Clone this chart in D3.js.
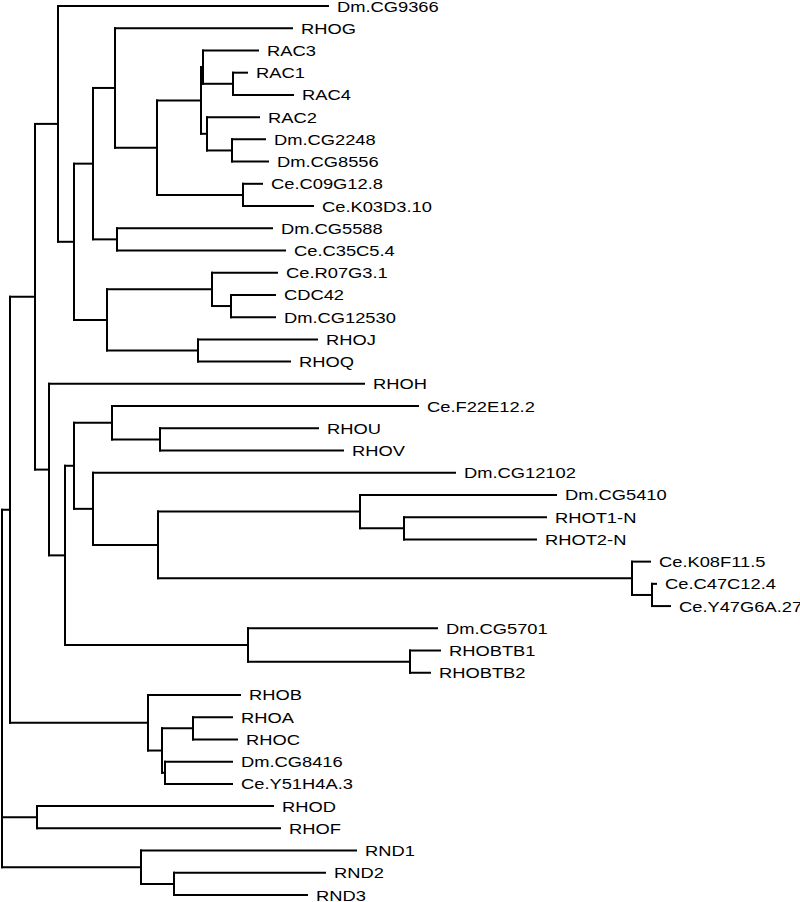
<!DOCTYPE html>
<html>
<head>
<meta charset="utf-8">
<script src="https://cdn.jsdelivr.net/npm/d3@7"></script>
<style>
  html, body { margin: 0; padding: 0; background: #fff; }
  svg { display: block; }
</style>
</head>
<body>
<div id="chart"></div>
<script>
// Tree nodes (in drawing order), their parents and branch lengths
const nodeNames = [
  "root","n10","n35","n58","Dm.CG9366","n74","n93","n115","RHOG","n157",
  "n201","n203","RAC3","n233","RAC1","RAC4","n207","RAC2","n232","Dm.CG2248",
  "Dm.CG8556","n243","Ce.C09G12.8","Ce.K03D3.10","n117","Dm.CG5588","Ce.C35C5.4","n107","n212","Ce.R07G3.1",
  "n231","CDC42","Dm.CG12530","n198","RHOJ","RHOQ","n49","RHOH","n65","n74b",
  "n112","Ce.F22E12.2","n160","RHOU","RHOV","n93b","Dm.CG12102","n158","n360","Dm.CG5410",
  "n404","RHOT1-N","RHOT2-N","n632","Ce.K08F11.5","n652","Ce.C47C12.4","Ce.Y47G6A.27","n248","Dm.CG5701",
  "n410","RHOBTB1","RHOBTB2","n148","RHOB","n162","n193","RHOA","RHOC","n165",
  "Dm.CG8416","Ce.Y51H4A.3","n37","RHOD","RHOF","n141","RND1","n174","RND2","RND3"
];
const parentNames = [
  "","root","n10","n35","n58","n58","n74","n93","n115","n115",
  "n157","n201","n203","n203","n233","n233","n201","n207","n207","n232",
  "n232","n157","n243","n243","n93","n117","n117","n74","n107","n212",
  "n212","n231","n231","n107","n198","n198","n35","n49","n49","n65",
  "n74b","n112","n112","n160","n160","n74b","n93b","n93b","n158","n360",
  "n360","n404","n404","n158","n632","n632","n652","n652","n65","n248",
  "n248","n410","n410","n10","n148","n148","n162","n193","n193","n162",
  "n165","n165","root","n37","n37","root","n141","n141","n174","n174"
];
const branchLengths = [
  0,0.008,0.025,0.023,0.270,0.016,0.019,0.022,0.177,0.042,
  0.044,0.002,0.055,0.030,0.014,0.060,0.006,0.052,0.025,0.033,
  0.036,0.086,0.019,0.070,0.024,0.155,0.168,0.033,0.105,0.065,
  0.019,0.044,0.044,0.091,0.119,0.092,0.014,0.315,0.016,0.009,
  0.038,0.306,0.048,0.158,0.183,0.019,0.362,0.065,0.202,0.196,
  0.044,0.142,0.132,0.474,0.018,0.020,0.004,0.018,0.183,0.189,
  0.162,0.030,0.020,0.138,0.092,0.014,0.031,0.039,0.044,0.003,
  0.067,0.067,0.035,0.236,0.243,0.139,0.215,0.033,0.151,0.133
];

const W = 800, H = 902;
const svg = d3.select("#chart").append("svg")
  .attr("width", W).attr("height", H)
  .style("background", "#fff");

const idx = d3.range(nodeNames.length);
const root = d3.stratify()
  .id(i => nodeNames[i])
  .parentId(i => parentNames[i] || null)(idx);

// cumulative depth
root.eachBefore(n => {
  n.depthLen = n.parent ? n.parent.depthLen + branchLengths[n.data] : 0;
});
const maxDepth = d3.max(root.leaves(), d => d.depthLen);

const x = d3.scaleLinear().domain([0, maxDepth]).range([2, 670]);
const leaves = root.leaves();
const y = d3.scalePoint().domain(leaves.map(d => d.id)).range([6, 895]);

root.eachAfter(n => {
  n.px = x(n.depthLen);
  if (!n.children) n.py = y(n.id);
  else n.py = (n.children[0].py + n.children[n.children.length - 1].py) / 2;
});

const g = svg.append("g")
  .attr("fill", "none")
  .attr("stroke", "#000")
  .attr("stroke-width", 2)
  .attr("stroke-linecap", "square");

// horizontal branches
g.selectAll("line.h")
  .data(root.descendants().filter(n => n.parent))
  .join("line")
  .attr("class", "h")
  .attr("x1", n => n.parent.px).attr("x2", n => n.px)
  .attr("y1", n => n.py).attr("y2", n => n.py);

// vertical connectors
g.selectAll("line.v")
  .data(root.descendants().filter(n => n.children))
  .join("line")
  .attr("class", "v")
  .attr("x1", n => n.px).attr("x2", n => n.px)
  .attr("y1", n => n.children[0].py)
  .attr("y2", n => n.children[n.children.length - 1].py);

// leaf labels
svg.append("g")
  .selectAll("text")
  .data(leaves)
  .join("text")
  .attr("transform", n => `translate(${n.px + 9},${n.py + 5.5}) scale(1.19,1)`)
  .attr("font-family", "'Liberation Sans', Arial, sans-serif")
  .attr("font-size", 15.4)
  .attr("fill", "#000")
  .text(n => n.id);
</script>
</body>
</html>
